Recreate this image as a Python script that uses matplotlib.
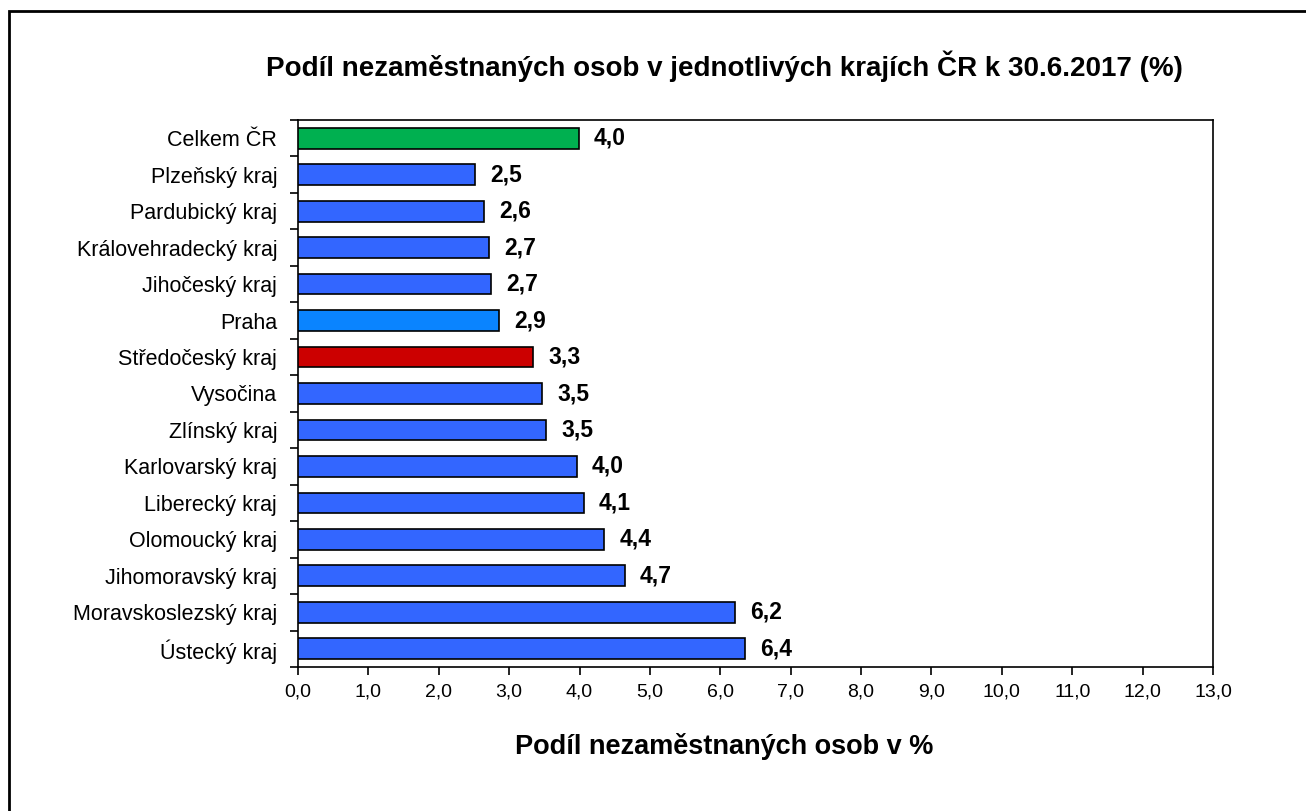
import matplotlib
matplotlib.use("Agg")
import matplotlib.pyplot as plt
from matplotlib.patches import Rectangle
import numpy as np

categories = ["Celkem ČR", "Plzeňský kraj", "Pardubický kraj", "Královehradecký kraj",
              "Jihočeský kraj", "Praha", "Středočeský kraj", "Vysočina", "Zlínský kraj",
              "Karlovarský kraj", "Liberecký kraj", "Olomoucký kraj", "Jihomoravský kraj",
              "Moravskoslezský kraj", "Ústecký kraj"]
values = [3.99, 2.51, 2.64, 2.71, 2.74, 2.86, 3.34, 3.47, 3.52, 3.96, 4.06, 4.35, 4.64, 6.21, 6.35]
labels = ["4,0", "2,5", "2,6", "2,7", "2,7", "2,9", "3,3", "3,5", "3,5", "4,0", "4,1", "4,4", "4,7", "6,2", "6,4"]
colors = ["#00B050", "#3366FF", "#3366FF", "#3366FF", "#3366FF", "#0A84FF", "#CC0000",
          "#3366FF", "#3366FF", "#3366FF", "#3366FF", "#3366FF", "#3366FF", "#3366FF", "#3366FF"]
xticks = np.arange(0, 14, 1)

plt.rcParams['font.family'] = ['Liberation Sans', 'DejaVu Sans']

W, H = 1306, 811
fig = plt.figure(figsize=(W / 100, H / 100), dpi=100)
fig.patches.append(Rectangle((9 / W, -0.05), 1.2, 1.05 - 11 / H, transform=fig.transFigure,
                             fill=False, edgecolor="black", linewidth=2, zorder=0))

ax = fig.add_axes([298 / W, 1 - 667 / H, (1213 - 298) / W, (667 - 120) / H])
n = len(categories)
y = np.arange(n)
ax.barh(y, values, height=0.57, color=colors, edgecolor="black", linewidth=1.2, zorder=3)
ax.set_ylim(n - 0.5, -0.5)
ax.set_xlim(0, 13)
for yi, v, lab in zip(y, values, labels):
    ax.annotate(lab, (v, yi), xytext=(11, 0), textcoords="offset points",
                ha="left", va="center", fontsize=16.5, fontweight="bold")

ax.set_yticks(y)
ax.set_yticklabels(categories, fontsize=15.5)
ax.tick_params(axis="y", length=0, pad=15)
ax.set_yticks(np.arange(-0.5, n, 1), minor=True)
ax.tick_params(axis="y", which="minor", length=6, width=1.2, direction="out")

ax.set_xticks(xticks)
ax.set_xticklabels([f"{t:.1f}".replace(".", ",") for t in xticks], fontsize=14)
ax.tick_params(axis="x", length=6, width=1.2, direction="out", pad=6)

for s in ax.spines.values():
    s.set_linewidth(1.2)

fig.text(724 / W, 1 - 746 / H, "Podíl nezaměstnaných osob v %",
         ha="center", va="center", fontsize=19.5, fontweight="bold")
fig.text(724 / W, 1 - 66 / H, "Podíl nezaměstnaných osob v jednotlivých krajích ČR k 30.6.2017 (%)",
         ha="center", va="center", fontsize=20, fontweight="bold")

fig.savefig("out.png", dpi=100)
